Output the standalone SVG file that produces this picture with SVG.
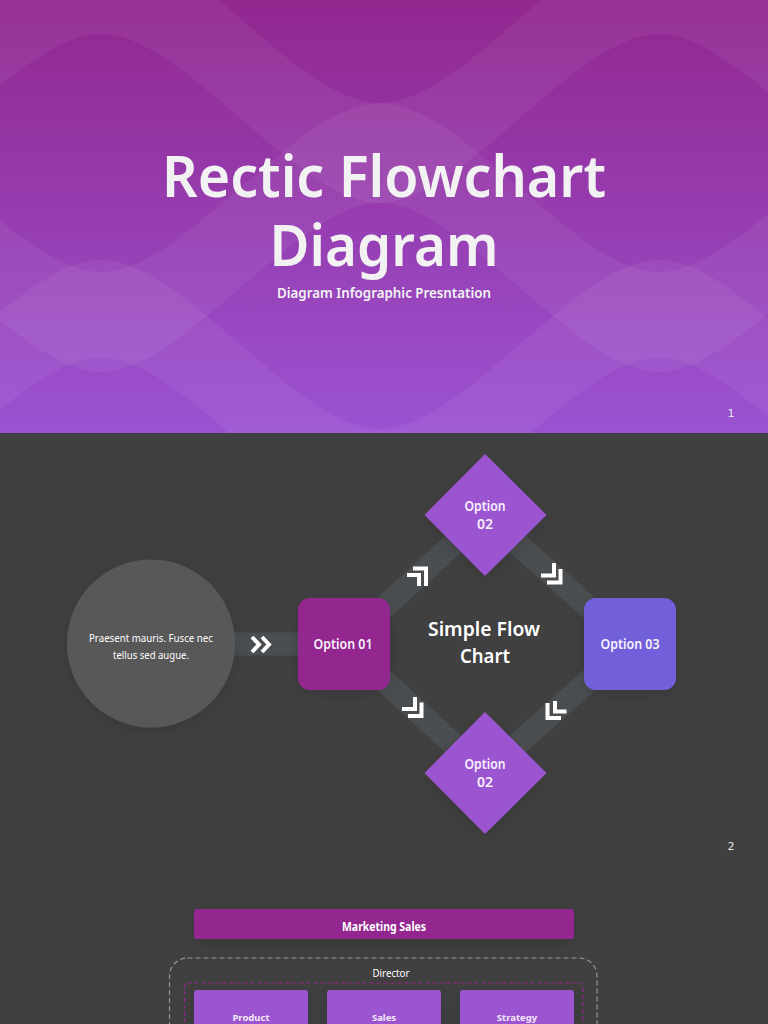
<svg xmlns="http://www.w3.org/2000/svg" width="768" height="1024" viewBox="0 0 768 1024">
<style>
text{font-family:"Noto Sans","Open Sans","Liberation Sans",sans-serif;text-anchor:middle;fill:#fff}
.band{fill:#fff;fill-opacity:.055}
.t{fill:#f2f2f2;font-weight:600}
.o{font-size:14px;font-weight:600;fill:#f8f0fb}
.link{fill:none;stroke:#4a4e51;stroke-width:23}
.chev{fill:none;stroke:#fff;stroke-width:4}
.num{font-family:"DejaVu Sans",sans-serif;font-size:11px;fill:#e4e4e4}
.box{fill:#9b55d0;filter:url(#sh)}
.b{font-size:9.5px;font-weight:700;fill:#f4eaf8}
</style>
<defs>
<linearGradient id="bg" x1="0" y1="0" x2="0" y2="1"><stop offset="0" stop-color="#92278f"/><stop offset="1" stop-color="#9b53d2"/></linearGradient>
<filter id="sh" x="-30%" y="-30%" width="160%" height="170%"><feDropShadow dx="0" dy="4" stdDeviation="8" flood-color="#000" flood-opacity=".14"/></filter>
</defs>
<g id="slide1-background">
<rect width="768" height="433" fill="url(#bg)"/>
<path class="band" d="M-178,103C-94,103 17,-66 101,-66C185,-66 296,103 380,103C464,103 575,-66 659,-66C743,-66 854,103 938,103L938,203C854,203 743,34 659,34C575,34 464,203 380,203C296,203 185,34 101,34C17,34 -94,203 -178,203Z"/>
<path class="band" d="M-178,103C-94,103 17,272 101,272C185,272 296,103 380,103C464,103 575,272 659,272C743,272 854,103 938,103L938,203C854,203 743,372 659,372C575,372 464,203 380,203C296,203 185,372 101,372C17,372 -94,203 -178,203Z"/>
<path class="band" d="M-178,429C-94,429 17,260 101,260C185,260 296,429 380,429C464,429 575,260 659,260C743,260 854,429 938,429L938,527C854,527 743,358 659,358C575,358 464,527 380,527C296,527 185,358 101,358C17,358 -94,527 -178,527Z"/>
</g>
<rect id="slide2-background" y="433" width="768" height="591" fill="#404040"/>
<g id="title">
<text class="t" x="384" y="197" font-size="58" textLength="444" lengthAdjust="spacingAndGlyphs">Rectic Flowchart</text>
<text class="t" x="384" y="266" font-size="58" textLength="229" lengthAdjust="spacingAndGlyphs">Diagram</text>
<text class="t" x="384" y="298" font-size="14" textLength="214" lengthAdjust="spacingAndGlyphs">Diagram Infographic Presntation</text>
<text class="num" x="731" y="417">1</text>
<text class="num" x="731" y="850">2</text>
</g>
<g id="connectors">
<line class="link" x1="234" y1="644" x2="298" y2="644"/>
<line class="link" x1="344" y1="644" x2="485" y2="515"/>
<line class="link" x1="485" y1="515" x2="630" y2="644"/>
<line class="link" x1="344" y1="644" x2="485" y2="773"/>
<line class="link" x1="485" y1="773" x2="630" y2="644"/>
<path class="chev" d="M252,637L259,644.500L252,652M262,637L269,644.500L262,652"/>
<path class="chev" d="M413,568.500H426V586M407,575H419V586"/>
<path class="chev" d="M547,582.500H560.500V569M541,575.500H554V563"/>
<path class="chev" d="M408,716H421.500V702.500M402,709H415V697"/>
<path class="chev" d="M547.500,703V718H561M555,701V711.500H566.500"/>
</g>
<g id="node-circle">
<circle cx="151" cy="643.500" r="84" fill="#595959" filter="url(#sh)"/>
<text x="151" y="641.500" font-size="10.500" fill="#f0f0f0" textLength="124" lengthAdjust="spacingAndGlyphs">Praesent mauris. Fusce nec</text>
<text x="151" y="659" font-size="10.500" fill="#f0f0f0" textLength="76" lengthAdjust="spacingAndGlyphs">tellus sed augue.</text>
</g>
<g id="node-option-01">
<rect x="298" y="598" width="92" height="92" rx="12" fill="#93278f" filter="url(#sh)"/>
<text class="o" x="343" y="649" textLength="59" lengthAdjust="spacingAndGlyphs">Option 01</text>
</g>
<g id="node-option-02-top">
<polygon points="485,454 546.500,515 485,576 424.500,515" fill="#9b55d0" filter="url(#sh)"/>
<text class="o" x="485" y="511" textLength="41" lengthAdjust="spacingAndGlyphs">Option</text>
<text class="o" x="485" y="529">02</text>
</g>
<g id="node-option-03">
<rect x="584" y="598" width="92" height="92" rx="12" fill="#7160d9" filter="url(#sh)"/>
<text class="o" x="630" y="649" textLength="59" lengthAdjust="spacingAndGlyphs">Option 03</text>
</g>
<g id="node-option-02-bottom">
<polygon points="485,712 546.500,773 485,834 424.500,773" fill="#9b55d0" filter="url(#sh)"/>
<text class="o" x="485" y="769" textLength="41" lengthAdjust="spacingAndGlyphs">Option</text>
<text class="o" x="485" y="787">02</text>
</g>
<g id="center-label">
<text x="484" y="636" font-size="20" font-weight="600" fill="#eaeaea" textLength="112" lengthAdjust="spacingAndGlyphs">Simple Flow</text>
<text x="485" y="663" font-size="20" font-weight="600" fill="#eaeaea" textLength="50" lengthAdjust="spacingAndGlyphs">Chart</text>
</g>
<g id="marketing-sales">
<rect x="194" y="909" width="380" height="30" rx="3" fill="#93278f" filter="url(#sh)"/>
<text x="384" y="931" font-size="12" font-weight="700" fill="#f6ecf6" textLength="84" lengthAdjust="spacingAndGlyphs">Marketing Sales</text>
</g>
<g id="director">
<rect x="169.500" y="958" width="427.500" height="100" rx="18" fill="none" stroke="#8b98a2" stroke-width="1.200" stroke-dasharray="5 3"/>
<text x="391" y="977" font-size="10" fill="#e6e6e6" textLength="37" lengthAdjust="spacingAndGlyphs">Director</text>
<rect x="184.500" y="983" width="398.500" height="80" rx="3" fill="none" stroke="#93278f" stroke-width="1.200" stroke-dasharray="4 3"/>
</g>
<g id="node-product"><rect class="box" x="194" y="990" width="114" height="60" rx="3"/><text class="b" x="251" y="1021">Product</text></g>
<g id="node-sales"><rect class="box" x="327" y="990" width="114" height="60" rx="3"/><text class="b" x="384" y="1021">Sales</text></g>
<g id="node-strategy"><rect class="box" x="460" y="990" width="114" height="60" rx="3"/><text class="b" x="517" y="1021">Strategy</text></g>
</svg>
